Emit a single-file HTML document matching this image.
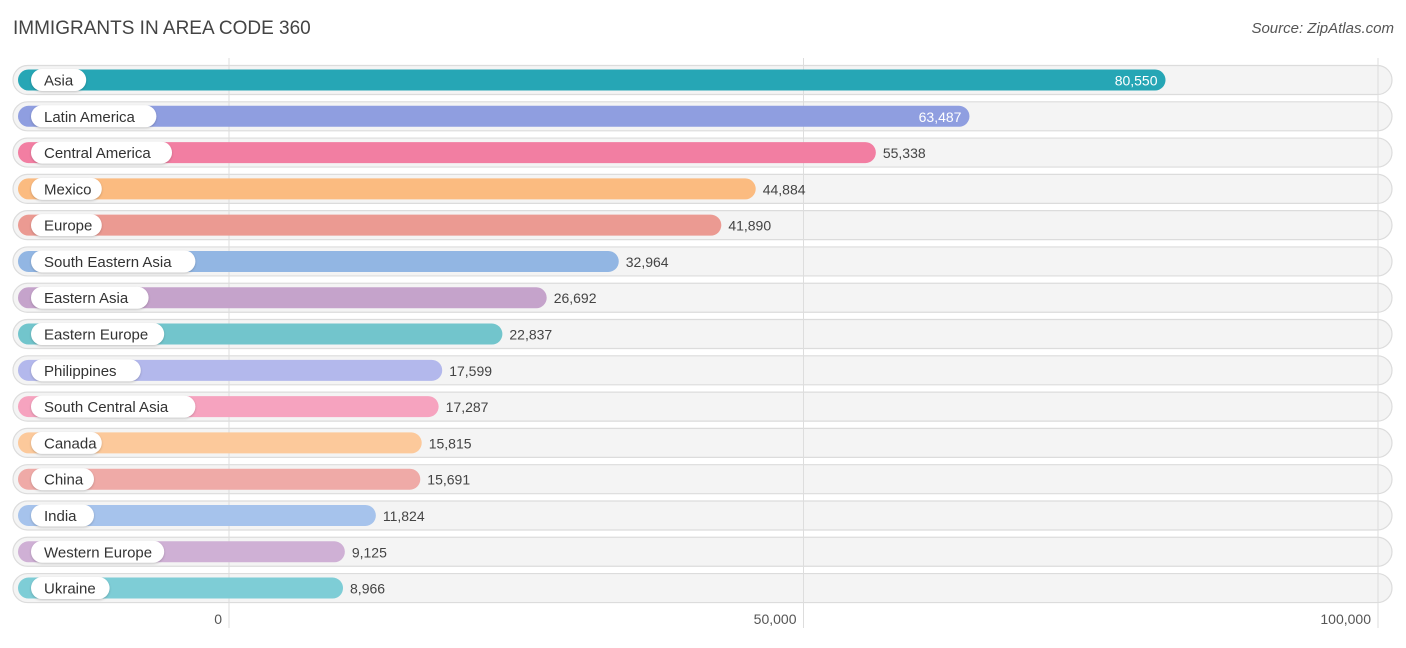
<!DOCTYPE html>
<html><head><meta charset="utf-8"><style>
body{margin:0;background:#fff;font-family:"Liberation Sans",sans-serif;}
svg text{font-family:"Liberation Sans",sans-serif;}
</style></head><body>
<svg id="c" width="1406" height="643">
<text x="13" y="34" font-size="19" fill="#444">IMMIGRANTS IN AREA CODE 360</text>
<text x="1394" y="33" font-size="15" fill="#555" font-style="italic" text-anchor="end">Source: ZipAtlas.com</text>
<g id="bgs"></g><g id="grid"></g><g id="rows"></g><g id="ticks"></g>
</svg>
<script>
const categories=["Asia","Latin America","Central America","Mexico","Europe","South Eastern Asia","Eastern Asia","Eastern Europe","Philippines","South Central Asia","Canada","China","India","Western Europe","Ukraine"];
const values=[80550,63487,55338,44884,41890,32964,26692,22837,17599,17287,15815,15691,11824,9125,8966];
const colors=["#26a6b5","#8f9ee0","#f27ea2","#fbbb80","#eb9a92","#92b6e3","#c5a3cb","#72c5cc","#b3b8ec","#f6a3bf","#fcc99b","#efaaa7","#a6c3ec","#cfb0d5","#7ecdd6"];
const tickVals=[0,50000,100000];
const tickLabels=["0","50,000","100,000"];
const NS="http://www.w3.org/2000/svg";
const x=v=>229+v*(1149/100000);
const y0=80, dy=36.29;
function mk(t,a,p){const e=document.createElementNS(NS,t);for(const k in a)e.setAttribute(k,a[k]);p.appendChild(e);return e;}
const bgs=document.getElementById('bgs'),grid=document.getElementById('grid'),rows=document.getElementById('rows'),ticks=document.getElementById('ticks');
tickVals.forEach((t,i)=>{
 const l=mk('line',{x1:x(t),x2:x(t),y1:58,y2:628,stroke:'#ddd','stroke-width':1},grid);
 
 
 const tx=mk('text',{x:x(t)-7,y:624,'font-size':14,fill:'#555','text-anchor':'end'},ticks);
 tx.textContent=tickLabels[i];
 
 
});
categories.forEach((c,i)=>{
 const cy=y0+i*dy;
 const bg=mk('rect',{x:13,y:cy-14.5,width:1379,height:29,rx:14.5,fill:'#f4f4f4',stroke:'#dcdcdc','stroke-width':1.2},bgs);
 
 
 const g=mk('g',{},rows);
 
 
 const end=x(values[i])+11;
 const b=mk('rect',{x:18,y:cy-10.5,width:end-18,height:21,rx:10.5,fill:colors[i]},g);
 
 
 const tw=c.length*7.8+24;
 mk('rect',{x:31,y:cy-11,width:tw,height:22,rx:11,fill:'#fff',style:'filter:drop-shadow(0 1px 1px rgba(0,0,0,0.2))'},g);
 const lt=mk('text',{x:44,y:cy+5.5,'font-size':15,fill:'#333'},g);
 lt.textContent=c;
 
 
 const inside=i<2;
 const vt=mk('text',{x:inside?end-8:end+7,y:cy+5.5,'font-size':14,fill:inside?'#fff':'#444','text-anchor':inside?'end':'start'},g);
 vt.textContent=values[i].toLocaleString('en-US');
 
 
});
</script>
</body></html>
